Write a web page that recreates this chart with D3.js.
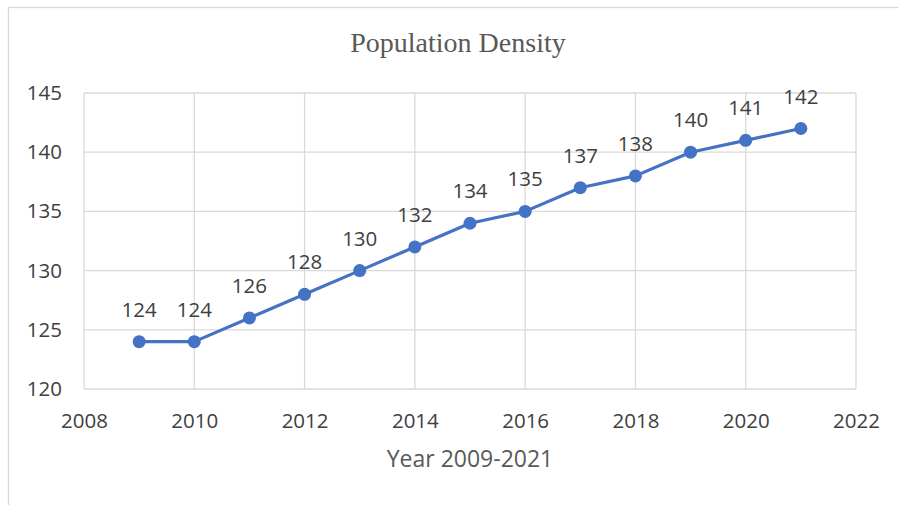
<!DOCTYPE html>
<html>
<head>
<meta charset="utf-8">
<script src="https://cdn.jsdelivr.net/npm/d3@7"></script>
<style>
  body { margin: 0; background: #fff; }
  svg { display: block; }
</style>
</head>
<body>
<div id="chart"></div>
<script>
// chart data
const years = [2009, 2010, 2011, 2012, 2013, 2014, 2015, 2016, 2017, 2018, 2019, 2020, 2021];
const density = [124, 124, 126, 128, 130, 132, 134, 135, 137, 138, 140, 141, 142];
const xTicks = [2008, 2010, 2012, 2014, 2016, 2018, 2020, 2022];
const yTicks = [120, 125, 130, 135, 140, 145];

const width = 898, height = 505;
const margin = {left: 84, right: 42, top: 93, bottom: 116};

const svg = d3.select("#chart").append("svg")
    .attr("width", width)
    .attr("height", height);

// outer frame (runs off the right and bottom of the picture)
svg.append("rect")
    .attr("x", 8.5).attr("y", 7.5)
    .attr("width", width + 10).attr("height", height + 10)
    .attr("fill", "none")
    .attr("stroke", "#d9d9d9")
    .attr("stroke-width", 1.3);

const x = d3.scaleLinear()
    .domain([2008, 2022])
    .range([margin.left, width - margin.right]);

const y = d3.scaleLinear()
    .domain([120, 145])
    .range([height - margin.bottom, margin.top]);

// gridlines
const grid = svg.append("g").attr("stroke", "#d9d9d9").attr("stroke-width", 1.3);
grid.selectAll(".h")
    .data(yTicks)
    .join("line")
    .attr("x1", x(2008)).attr("x2", x(2022))
    .attr("y1", d => y(d)).attr("y2", d => y(d));
grid.selectAll(".v")
    .data(xTicks)
    .join("line")
    .attr("x1", d => x(d)).attr("x2", d => x(d))
    .attr("y1", y(120)).attr("y2", y(145));

// y axis labels
const yAxis = svg.append("g")
    .attr("transform", `translate(${margin.left},0)`)
    .call(d3.axisLeft(y).tickValues(yTicks).tickSize(0).tickPadding(22));
yAxis.select(".domain").remove();
yAxis.selectAll("text")
    .attr("fill", "#404040")
    .style("font-family", "'Open Sans', sans-serif")
    .style("font-size", "20.5px");

// x axis labels
const xAxis = svg.append("g")
    .attr("transform", `translate(0,${y(120)})`)
    .call(d3.axisBottom(x).tickValues(xTicks).tickFormat(d3.format("d")).tickSize(0).tickPadding(24));
xAxis.select(".domain").remove();
xAxis.selectAll("text")
    .attr("fill", "#404040")
    .style("font-family", "'Open Sans', sans-serif")
    .style("font-size", "20.5px");

// line + markers
const line = d3.line()
    .x((d, i) => x(years[i]))
    .y(d => y(d));

svg.append("path")
    .datum(density)
    .attr("d", line)
    .attr("fill", "none")
    .attr("stroke", "#4472c4")
    .attr("stroke-width", 3.2)
    .attr("stroke-linejoin", "round");

svg.append("g")
    .selectAll("circle")
    .data(density)
    .join("circle")
    .attr("cx", (d, i) => x(years[i]))
    .attr("cy", d => y(d))
    .attr("r", 6.5)
    .attr("fill", "#4472c4");

// data labels
svg.append("g")
    .selectAll("text")
    .data(density)
    .join("text")
    .attr("x", (d, i) => x(years[i]))
    .attr("y", d => y(d) - 25)
    .attr("text-anchor", "middle")
    .attr("fill", "#404040")
    .style("font-family", "'Open Sans', sans-serif")
    .style("font-size", "20.5px")
    .text(d => d);

// title
svg.append("text")
    .attr("x", 458)
    .attr("y", 52)
    .attr("text-anchor", "middle")
    .attr("fill", "#595959")
    .style("font-family", "'Liberation Serif', serif")
    .style("font-size", "28px")
    .text("Population Density");

// axis title
svg.append("text")
    .attr("x", (x(2008) + x(2022)) / 2)
    .attr("y", 467)
    .attr("text-anchor", "middle")
    .attr("fill", "#595959")
    .style("font-family", "'Open Sans', sans-serif")
    .style("font-size", "23px")
    .text("Year 2009-2021");
</script>
</body>
</html>
